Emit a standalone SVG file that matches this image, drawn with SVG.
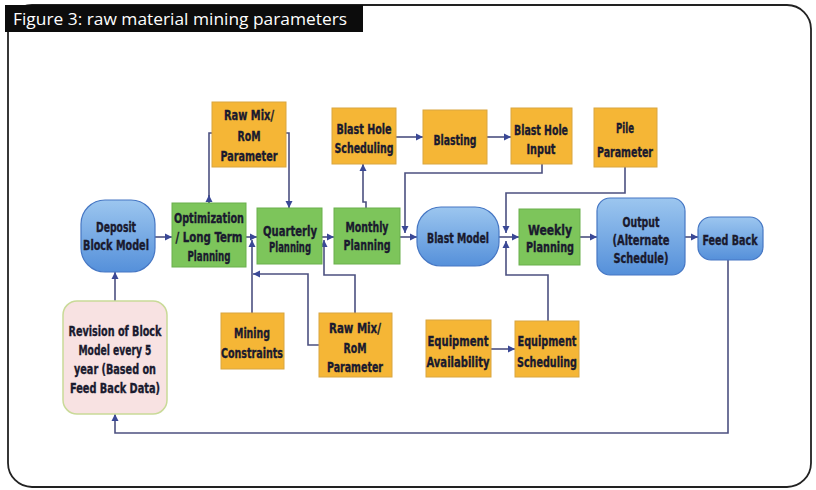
<svg xmlns="http://www.w3.org/2000/svg" width="816" height="490" viewBox="0 0 816 490">
<style>
.t{font-family:"DejaVu Sans Condensed","DejaVu Sans","Liberation Sans",sans-serif;font-weight:bold;font-size:14px;fill:#1a1a2e;stroke:#1a1a2e;stroke-width:0.35;text-anchor:middle}
.or{fill:#f5b636;stroke:#d9a640;stroke-width:1}
.gr{fill:#7dc55b;stroke:#6aaf4c;stroke-width:1}
.bl{fill:url(#bg);stroke:#4677c4;stroke-width:1.2}
.c{fill:none;stroke:#4c5080;stroke-width:1.6}
.a{marker-end:url(#ah)}
</style>
<defs>
<linearGradient id="bg" x1="0" y1="0" x2="0" y2="1">
<stop offset="0" stop-color="#9cc6ef"/>
<stop offset="1" stop-color="#5590da"/>
</linearGradient>
<marker id="ah" markerUnits="userSpaceOnUse" markerWidth="8" markerHeight="8" refX="7" refY="4" orient="auto">
<path d="M0,0.5 L7,4 L0,7.5 z" fill="#3a4896"/>
</marker>
</defs>
<rect x="0" y="0" width="816" height="490" fill="#ffffff"/>
<rect x="8" y="5" width="803" height="482" rx="24" fill="none" stroke="#222" stroke-width="1.8"/>
<rect x="5" y="5" width="358" height="27" fill="#0c0c0c"/>
<text x="13" y="25" font-family="'Open Sans','DejaVu Sans',sans-serif" font-size="17" fill="#ffffff" textLength="334" lengthAdjust="spacingAndGlyphs">Figure 3: raw material mining parameters</text>

<g id="connectors">
<path class="c a" d="M155,237 H172"/>
<path class="c" d="M209,203 V133 H212"/>
<path class="c a" d="M209,203 V195"/>
<path class="c a" d="M286,133 H289 V208"/>
<path class="c a" d="M246,237 H257"/>
<path class="c a" d="M252,313 V240"/>
<path class="c a" d="M319,345 H308 V274 H253"/>
<path class="c a" d="M322,237 H334"/>
<path class="c a" d="M355,313 V275 H324 V240"/>
<path class="c a" d="M366,208 V202 H363 V164"/>
<path class="c a" d="M396,137 H423"/>
<path class="c a" d="M487,137 H511"/>
<path class="c a" d="M542,164 V173 H405 V233"/>
<path class="c a" d="M400,237 H417"/>
<path class="c a" d="M499,237 H519"/>
<path class="c a" d="M625,167 V193 H506 V233"/>
<path class="c a" d="M548,321 V275 H506 V241"/>
<path class="c a" d="M580,237 H597"/>
<path class="c a" d="M685,237 H698"/>
<path class="c a" d="M728,260 V433 H115 V414"/>
<path class="c a" d="M491,349 H515"/>
<path class="c a" d="M115,301 V272"/>
</g>

<g id="deposit">
<rect class="bl" x="81" y="200" width="74" height="72" rx="24"/>
<text class="t" x="116" y="232" textLength="40" lengthAdjust="spacingAndGlyphs">Deposit</text>
<text class="t" x="116" y="250" textLength="66" lengthAdjust="spacingAndGlyphs">Block Model</text>
</g>
<g id="optimization">
<rect class="gr" x="172" y="203" width="74" height="64"/>
<text class="t" x="209" y="223" textLength="70" lengthAdjust="spacingAndGlyphs">Optimization</text>
<text class="t" x="209" y="242" textLength="67" lengthAdjust="spacingAndGlyphs">/ Long Term</text>
<text class="t" x="209" y="261" textLength="43" lengthAdjust="spacingAndGlyphs">Planning</text>
</g>
<g id="rawmix-top">
<rect class="or" x="212" y="102" width="74" height="65"/>
<text class="t" x="249" y="120" textLength="50" lengthAdjust="spacingAndGlyphs">Raw Mix/</text>
<text class="t" x="249" y="141" textLength="23" lengthAdjust="spacingAndGlyphs">RoM</text>
<text class="t" x="249" y="161" textLength="57" lengthAdjust="spacingAndGlyphs">Parameter</text>
</g>
<g id="quarterly">
<rect class="gr" x="257" y="208" width="65" height="56"/>
<text class="t" x="290" y="236" textLength="54" lengthAdjust="spacingAndGlyphs">Quarterly</text>
<text class="t" x="290" y="252" textLength="42" lengthAdjust="spacingAndGlyphs">Planning</text>
</g>
<g id="monthly">
<rect class="gr" x="334" y="208" width="66" height="56"/>
<text class="t" x="367" y="232" textLength="43" lengthAdjust="spacingAndGlyphs">Monthly</text>
<text class="t" x="367" y="250" textLength="47" lengthAdjust="spacingAndGlyphs">Planning</text>
</g>
<g id="blast-hole-scheduling">
<rect class="or" x="332" y="108" width="64" height="56"/>
<text class="t" x="364" y="134" textLength="55" lengthAdjust="spacingAndGlyphs">Blast Hole</text>
<text class="t" x="364" y="153" textLength="59" lengthAdjust="spacingAndGlyphs">Scheduling</text>
</g>
<g id="blasting">
<rect class="or" x="423" y="110" width="64" height="54"/>
<text class="t" x="455" y="145" textLength="43" lengthAdjust="spacingAndGlyphs">Blasting</text>
</g>
<g id="blast-hole-input">
<rect class="or" x="511" y="108" width="61" height="56"/>
<text class="t" x="541" y="135" textLength="54" lengthAdjust="spacingAndGlyphs">Blast Hole</text>
<text class="t" x="541" y="154" textLength="29" lengthAdjust="spacingAndGlyphs">Input</text>
</g>
<g id="blast-model">
<rect class="bl" x="417" y="207" width="82" height="59" rx="24"/>
<text class="t" x="458" y="243" textLength="62" lengthAdjust="spacingAndGlyphs">Blast Model</text>
</g>
<g id="weekly">
<rect class="gr" x="519" y="209" width="61" height="56"/>
<text class="t" x="550" y="235" textLength="44" lengthAdjust="spacingAndGlyphs">Weekly</text>
<text class="t" x="550" y="252" textLength="48" lengthAdjust="spacingAndGlyphs">Planning</text>
</g>
<g id="pile-parameter">
<rect class="or" x="594" y="108" width="63" height="59"/>
<text class="t" x="625" y="133" textLength="18" lengthAdjust="spacingAndGlyphs">Pile</text>
<text class="t" x="625" y="157" textLength="56" lengthAdjust="spacingAndGlyphs">Parameter</text>
</g>
<g id="output">
<rect class="bl" x="597" y="198" width="88" height="77" rx="13"/>
<text class="t" x="641" y="227" textLength="37" lengthAdjust="spacingAndGlyphs">Output</text>
<text class="t" x="641" y="245" textLength="57" lengthAdjust="spacingAndGlyphs">(Alternate</text>
<text class="t" x="641" y="263" textLength="55" lengthAdjust="spacingAndGlyphs">Schedule)</text>
</g>
<g id="feed-back">
<rect class="bl" x="698" y="217" width="65" height="43" rx="13"/>
<text class="t" x="730" y="245" textLength="55" lengthAdjust="spacingAndGlyphs">Feed Back</text>
</g>
<g id="revision">
<rect x="63" y="301" width="104" height="113" rx="14" fill="#f8e2e2" stroke="#c9da98" stroke-width="1.5"/>
<text class="t" x="115" y="336" textLength="93" lengthAdjust="spacingAndGlyphs">Revision of Block</text>
<text class="t" x="115" y="355" textLength="73" lengthAdjust="spacingAndGlyphs">Model every 5</text>
<text class="t" x="115" y="374" textLength="82" lengthAdjust="spacingAndGlyphs">year (Based on</text>
<text class="t" x="115" y="393" textLength="90" lengthAdjust="spacingAndGlyphs">Feed Back Data)</text>
</g>
<g id="mining-constraints">
<rect class="or" x="221" y="313" width="63" height="56"/>
<text class="t" x="252" y="338" textLength="36" lengthAdjust="spacingAndGlyphs">Mining</text>
<text class="t" x="252" y="358" textLength="62" lengthAdjust="spacingAndGlyphs">Constraints</text>
</g>
<g id="rawmix-bottom">
<rect class="or" x="319" y="313" width="73" height="64"/>
<text class="t" x="355" y="333" textLength="52" lengthAdjust="spacingAndGlyphs">Raw Mix/</text>
<text class="t" x="355" y="353" textLength="23" lengthAdjust="spacingAndGlyphs">RoM</text>
<text class="t" x="355" y="372" textLength="56" lengthAdjust="spacingAndGlyphs">Parameter</text>
</g>
<g id="equipment-availability">
<rect class="or" x="426" y="320" width="65" height="57"/>
<text class="t" x="458" y="346" textLength="61" lengthAdjust="spacingAndGlyphs">Equipment</text>
<text class="t" x="458" y="367" textLength="63" lengthAdjust="spacingAndGlyphs">Availability</text>
</g>
<g id="equipment-scheduling">
<rect class="or" x="515" y="321" width="64" height="56"/>
<text class="t" x="547" y="346" textLength="59" lengthAdjust="spacingAndGlyphs">Equipment</text>
<text class="t" x="547" y="367" textLength="60" lengthAdjust="spacingAndGlyphs">Scheduling</text>
</g>
</svg>
